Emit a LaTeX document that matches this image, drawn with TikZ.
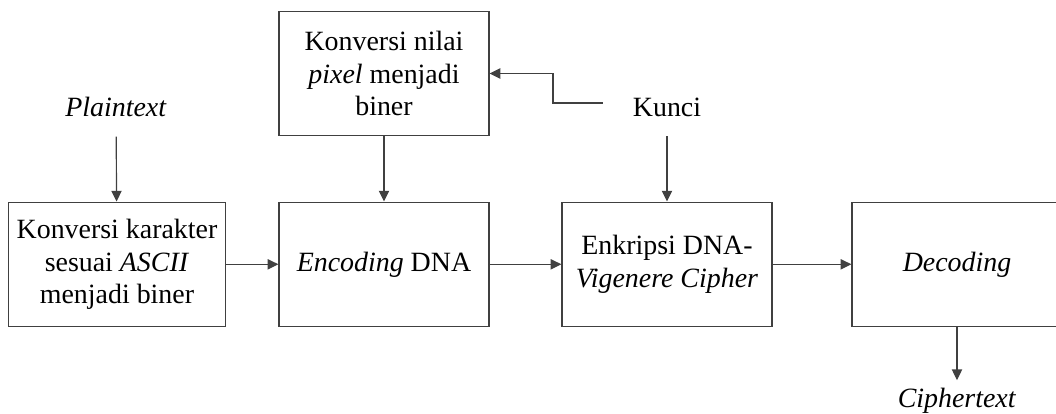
\documentclass[tikz,border=0pt]{standalone}
\usepackage{fontspec}
\setmainfont{Liberation Serif}
\usepackage{tikz}
\usetikzlibrary{arrows.meta}
\usepackage{xcolor}

\begin{document}
\begin{tikzpicture}[
    x=0.43pt, y=-0.43pt,
    every node/.style = {
      align=center,
      font=\fontsize{12pt}{13.8pt}\selectfont
    },
    kotak/.style = {
      shape=rectangle,
      draw=black!75,
      line width=0.5pt,
      minimum width=90.3pt,
      minimum height=53.5pt
    },
    arrow/.style = {
      -{Triangle[length=4.6pt,width=4.4pt]},
      draw=black!75,
      line width=0.5pt
    }
  ]

    \clip (0,0) rectangle (1056,414);

    % Input labels
    \node (plaintext) at (116, 107) {\textit{Plaintext}};
    \node (kunci)     at (667, 107) {Kunci};

    % Top box
    \node[kotak] (konversipix) at (384, 73.5) {Konversi nilai\\ \textit{pixel} menjadi\\ biner};

    % Row of process boxes
    \node[kotak] (konversikar) at (117, 264.3) {Konversi karakter\\ sesuai \textit{ASCII}\\ menjadi biner};
    \node[kotak] (encoding)    at (384, 264.3) {\textit{Encoding} DNA};
    \node[kotak] (enkripsi)    at (667, 264.3) {Enkripsi DNA-\\ \textit{Vigenere Cipher}};
    \node[kotak] (decoding)    at (957, 264.3) {\textit{Decoding}};

    % Output label
    \node (ciphertext) at (957, 401) {\textit{Ciphertext}};

    % bend of the key line
    \coordinate (tekuk) at (553, 103);

    % Arrows
    \draw[arrow, shorten <=5pt] (plaintext) -- (konversikar);
    \draw[arrow] (konversipix) -- (encoding);
    \draw[arrow, shorten <=5pt] (kunci) -- (enkripsi);
    \draw[arrow, shorten <=9.5pt] (tekuk -| kunci.west) -- (tekuk) |- (konversipix.east);
    \draw[arrow] (konversikar) -- (encoding);
    \draw[arrow] (encoding) -- (enkripsi);
    \draw[arrow] (enkripsi) -- (decoding);
    \draw[arrow] (decoding) -- (ciphertext);

  \end{tikzpicture}
\end{document}
